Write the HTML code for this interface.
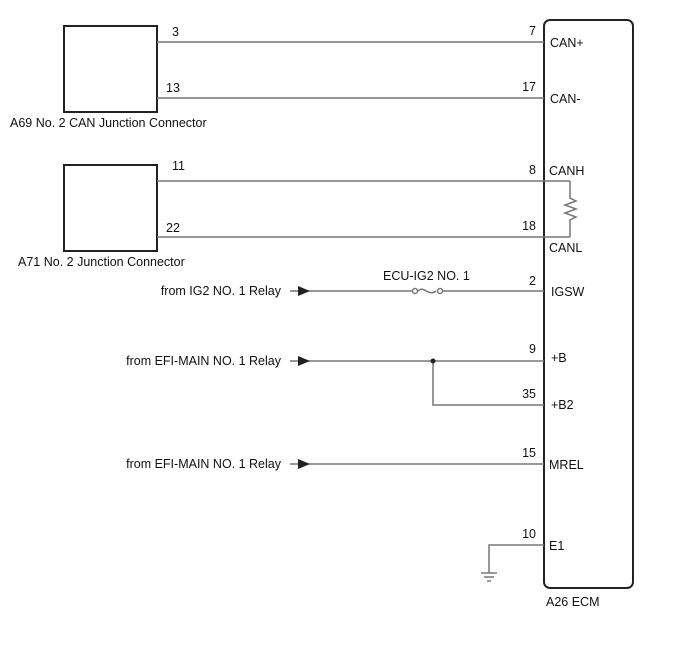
<!DOCTYPE html>
<html><head><style>
body{margin:0;background:#fff;}
svg text{font-family:"Liberation Sans",Arial,sans-serif;font-size:12.5px;fill:#111;}
</style></head><body>
<svg width="688" height="658" viewBox="0 0 688 658" xmlns="http://www.w3.org/2000/svg">
<g fill="none" stroke="#222" stroke-width="2">
<rect x="64" y="26" width="93" height="86"/>
<rect x="64" y="165" width="93" height="86"/>
<rect x="544" y="20" width="89" height="568" rx="6"/>
</g>
<g fill="none" stroke="#777" stroke-width="1.5">
<line x1="157" y1="42" x2="544" y2="42"/>
<line x1="157" y1="98" x2="544" y2="98"/>
<line x1="157" y1="181" x2="570" y2="181"/>
<line x1="157" y1="237" x2="570" y2="237"/>
<polyline points="570,181 570,198 576,201 565,205 576,209 565,213 576,217 570,220 570,237"/>
<line x1="290" y1="291" x2="415" y2="291"/>
<line x1="442" y1="291" x2="544" y2="291"/>
<path d="M418,291 C424,285 428,297 436,291"/>
<circle cx="415" cy="291" r="2.5" fill="#fff"/>
<circle cx="440" cy="291" r="2.5" fill="#fff"/>
<line x1="290" y1="361" x2="544" y2="361"/>
<polyline points="433,361 433,405 544,405"/>
<line x1="290" y1="464" x2="544" y2="464"/>
<polyline points="544,545 489,545 489,573"/>
<line x1="481" y1="573" x2="497" y2="573"/>
<line x1="484" y1="577" x2="494" y2="577"/>
<line x1="487" y1="581" x2="491" y2="581"/>
</g>
<g fill="#222">
<polygon points="298,286 310,291 298,296"/>
<polygon points="298,356 310,361 298,366"/>
<polygon points="298,459 310,464 298,469"/>
<circle cx="433" cy="361" r="2.5"/>
</g>
<text x="172" y="36">3</text>
<text x="166" y="92">13</text>
<text x="172" y="170">11</text>
<text x="166" y="232">22</text>
<text x="10" y="127">A69  No. 2 CAN Junction Connector</text>
<text x="18" y="266">A71  No. 2 Junction Connector</text>
<g text-anchor="end">
<text x="536" y="35">7</text>
<text x="536" y="91">17</text>
<text x="536" y="174">8</text>
<text x="536" y="230">18</text>
<text x="536" y="285">2</text>
<text x="536" y="353">9</text>
<text x="536" y="398">35</text>
<text x="536" y="457">15</text>
<text x="536" y="538">10</text>
<text x="281" y="295">from IG2 NO. 1 Relay</text>
<text x="281" y="365">from EFI-MAIN NO. 1 Relay</text>
<text x="281" y="468">from EFI-MAIN NO. 1 Relay</text>
</g>
<text x="383" y="280">ECU-IG2 NO. 1</text>
<text x="550" y="47">CAN+</text>
<text x="550" y="103">CAN-</text>
<text x="549" y="175">CANH</text>
<text x="549" y="252">CANL</text>
<text x="551" y="296">IGSW</text>
<text x="551" y="362">+B</text>
<text x="551" y="409">+B2</text>
<text x="549" y="469">MREL</text>
<text x="549" y="550">E1</text>
<text x="546" y="606">A26  ECM</text>
</svg>
</body></html>
